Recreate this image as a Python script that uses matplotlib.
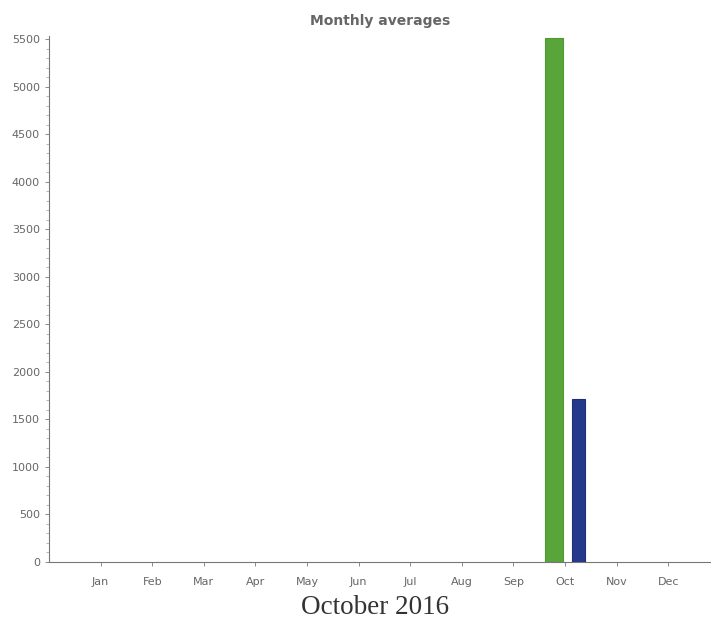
import numpy as np
import matplotlib.pyplot as plt
from matplotlib.ticker import MultipleLocator

# Data
months = ['Jan', 'Feb', 'Mar', 'Apr', 'May', 'Jun', 'Jul', 'Aug', 'Sep', 'Oct', 'Nov', 'Dec']
series_a = [0, 0, 0, 0, 0, 0, 0, 0, 0, 5510, 0, 0]  # green
series_b = [0, 0, 0, 0, 0, 0, 0, 0, 0, 1710, 0, 0]  # blue

x = np.arange(1, len(months) + 1)

fig = plt.figure(figsize=(7.11, 6.22), dpi=100)
ax = fig.add_axes([0.069, 0.0965, 0.931, 0.845])

# Bars (only draw nonzero ones, like the original)
a = np.array(series_a)
b = np.array(series_b)
ax.bar(x[a > 0] - 0.21, a[a > 0], width=0.35, color='#5aa53a', edgecolor='#4d9a30', lw=0.8)
ax.bar(x[b > 0] + 0.26, b[b > 0], width=0.25, color='#24398c', edgecolor='#1c2f78', lw=0.8)

ax.set_xlim(0, 12.83)
ax.set_ylim(0, 5530)
ax.set_xticks(x)
ax.set_xticklabels(months)
ax.yaxis.set_major_locator(MultipleLocator(500))
ax.yaxis.set_minor_locator(MultipleLocator(100))

for s in ['top', 'right']:
    ax.spines[s].set_visible(False)
for s in ['left', 'bottom']:
    ax.spines[s].set_color('#777777')
    ax.spines[s].set_linewidth(0.8)

ax.tick_params(axis='both', which='major', labelsize=8, colors='#777777', length=3, width=0.6, labelcolor='#666666')
ax.tick_params(axis='y', which='minor', length=2, width=0.5, colors='#999999')
ax.tick_params(axis='x', pad=8)

ax.set_title('Monthly averages', fontsize=10, fontweight='bold', color='#666666', pad=8)

fig.text(0.527, 0.023, 'October 2016', family='Liberation Serif', fontsize=19.5, color='#333333',
         ha='center', va='center')

plt.savefig('out.png', dpi=100)
